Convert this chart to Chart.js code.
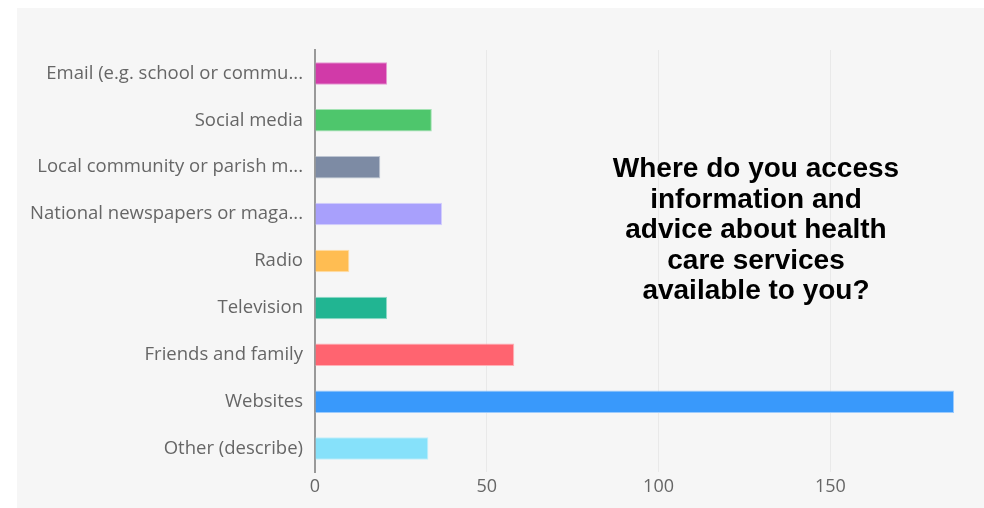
<!DOCTYPE html>
<html>
<head>
<meta charset="utf-8">
<script src="https://cdn.jsdelivr.net/npm/chart.js@4"></script>
<style>
  body { margin: 0; background: #fff; }
  #panel { position: absolute; left: 17px; top: 8px; width: 967px; height: 500px; background: #f6f6f6; }
  #title {
    position: absolute; left: 556px; top: 153px; width: 400px;
    font: bold 28px "Liberation Sans", Arial, sans-serif; line-height: 30.6px;
    text-align: center; color: #000;
  }
</style>
</head>
<body>
<div id="panel"><canvas id="chart"></canvas></div>
<div id="title">Where do you access<br>information and<br>advice about health<br>care services<br>available to you?</div>
<script>
const categories = [
    'Email (e.g. school or commu...',
    'Social media',
    'Local community or parish m...',
    'National newspapers or maga...',
    'Radio',
    'Television',
    'Friends and family',
    'Websites',
    'Other (describe)'
];
const responses = [21, 34, 19, 37, 10, 21, 58, 186, 33];
const xTicks = [0, 50, 100, 150];

const fillColors = ['#d13aa8', '#4ec66c', '#7d8ba4', '#a8a0fc', '#ffbd52', '#21b592', '#ff6470', '#3999fb', '#86e1fa'];
const edgeColors = ['#e69bd3', '#a3e2b3', '#bdc5d2', '#d4cffd', '#ffdea8', '#90dac8', '#ffb1b7', '#9ccbfd', '#c2f0fc'];

const ctx = document.getElementById('chart').getContext('2d');
new Chart(ctx, {
    type: 'bar',
    data: {
        labels: categories,
        datasets: [{
            data: responses,
            backgroundColor: fillColors,
            borderColor: edgeColors,
            borderWidth: 1,
            categoryPercentage: 1,
            barPercentage: 0.48
        }]
    },
    options: {
        indexAxis: 'y',
        responsive: true,
        maintainAspectRatio: false,
        animation: false,
        layout: { padding: { top: 42, right: 30, left: 0, bottom: 0 } },
        plugins: { legend: { display: false }, tooltip: { enabled: false } },
        scales: {
            x: {
                min: 0,
                max: Math.max(...responses),
                afterBuildTicks: s => { s.ticks = xTicks.map(v => ({ value: v })); },
                afterFit: s => { s.height = 36; },
                grid: { color: '#e9e9e9', drawTicks: false },
                border: { display: false },
                ticks: { color: '#666', padding: 4, font: { family: '"Open Sans"', size: 18 } }
            },
            y: {
                afterFit: s => { s.width = 298; },
                grid: { display: false },
                border: { display: true, color: '#999', width: 2 },
                ticks: { color: '#666', padding: 4, font: { family: '"Open Sans"', size: 18.5 } }
            }
        }
    }
});
</script>
</body>
</html>
